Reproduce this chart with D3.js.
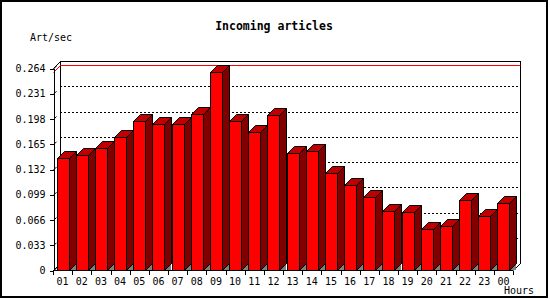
<!DOCTYPE html>
<html>
<head>
<meta charset="utf-8">
<script src="https://cdn.jsdelivr.net/npm/d3@7"></script>
<style>
  body { margin: 0; background: #fff; }
  svg { display: block; }
  text { font-family: "DejaVu Sans Mono", "Liberation Mono", monospace; fill: #000; }
</style>
</head>
<body>
<script>
const hours = ['01', '02', '03', '04', '05', '06', '07', '08', '09', '10', '11', '12',
               '13', '14', '15', '16', '17', '18', '19', '20', '21', '22', '23', '00'];
const artPerSec = [0.147, 0.150, 0.159, 0.174, 0.195, 0.191, 0.191, 0.204, 0.259, 0.195, 0.181, 0.202,
                   0.153, 0.155, 0.127, 0.111, 0.095, 0.077, 0.076, 0.053, 0.057, 0.092, 0.071, 0.087];
const yTicks = [0, 0.033, 0.066, 0.099, 0.132, 0.165, 0.198, 0.231, 0.264];

const width = 550, height = 300;
const plotLeft = 53, plotRight = 513, plotBase = 270, plotTop = 68;
const depth = 7;

const svg = d3.select('body').append('svg')
  .attr('width', width)
  .attr('height', height);

// image border
svg.append('rect')
  .attr('x', 1).attr('y', 1)
  .attr('width', 546).attr('height', 296)
  .attr('fill', 'none')
  .attr('stroke', '#000')
  .attr('stroke-width', 2);

const x = d3.scaleBand().domain(hours).range([plotLeft, plotRight]);
const y = d3.scaleLinear().domain([0, d3.max(yTicks)]).range([plotBase, plotTop]);
const r = v => Math.round(v) + 0.5;

const g = svg.append('g').attr('shape-rendering', 'crispEdges');

// dotted grid on back wall
g.selectAll('line.grid')
  .data(yTicks.slice(1, -1))
  .join('line')
    .attr('class', 'grid')
    .attr('x1', plotLeft + depth).attr('x2', plotRight + depth)
    .attr('y1', d => r(y(d) - depth))
    .attr('y2', d => r(y(d) - depth))
    .attr('stroke', '#000')
    .attr('stroke-dasharray', '2,2');

// back wall frame
g.append('path')
  .attr('d', `M${r(plotLeft + depth)},${r(plotBase - depth)}V${r(plotTop - depth)}H${r(plotRight + depth)}V${r(plotBase - depth)}`)
  .attr('fill', 'none')
  .attr('stroke', '#000');

// max line
const maxY = y(d3.max(artPerSec));
g.append('path')
  .attr('d', `M${r(plotLeft)},${r(maxY)}L${r(plotLeft + depth)},${r(maxY - depth)}H${r(plotRight + depth)}`)
  .attr('fill', 'none')
  .attr('stroke', '#f00')
  .attr('shape-rendering', 'auto');

// diagonals of the box
g.append('path')
  .attr('d', `M${r(plotLeft)},${r(plotTop)}L${r(plotLeft + depth)},${r(plotTop - depth)}` +
             `M${r(plotLeft)},${r(plotBase)}L${r(plotLeft + depth)},${r(plotBase - depth)}` +
             `M${r(plotRight)},${r(plotBase)}L${r(plotRight + depth)},${r(plotBase - depth)}`)
  .attr('fill', 'none')
  .attr('stroke', '#000')
  .attr('shape-rendering', 'auto');

const bw = Math.round(x.bandwidth() * 0.6);
const off = (x.bandwidth() - bw) / 2;
const data = hours.map((h, i) => ({hour: h, value: artPerSec[i]}));

const bars = g.selectAll('g.bar')
  .data(data)
  .join('g')
    .attr('class', 'bar')
    .attr('shape-rendering', 'auto');

// floor visible under the side face
bars.append('path')
  .attr('d', d => {
    const x1 = Math.round(x(d.hour) + off) + bw;
    return `M${x1},${plotBase}L${x1 + depth},${plotBase - depth}L${x1 + depth},${plotBase}Z`;
  })
  .attr('fill', '#808080');

bars.append('path')
  .attr('d', d => {
    const x1 = Math.round(x(d.hour) + off) + bw + 0.5;
    const yt = r(y(d.value));
    return `M${x1},${yt}L${x1 + depth},${yt - depth}V${plotBase - depth + 0.5}L${x1},${plotBase + 0.5}Z`;
  })
  .attr('fill', '#800000')
  .attr('stroke', '#000');

bars.append('path')
  .attr('d', d => {
    const x0 = Math.round(x(d.hour) + off) + 0.5, x1 = x0 + bw;
    const yt = r(y(d.value));
    return `M${x0},${yt}L${x0 + depth},${yt - depth}H${x1 + depth}L${x1},${yt}Z`;
  })
  .attr('fill', '#c00000')
  .attr('stroke', '#000');

bars.append('rect')
  .attr('x', d => Math.round(x(d.hour) + off) + 0.5)
  .attr('y', d => r(y(d.value)))
  .attr('width', bw)
  .attr('height', d => plotBase - Math.round(y(d.value)))
  .attr('fill', '#f00')
  .attr('stroke', '#000');

// y axis
const fmt = d => d === 0 ? '0' : d3.format('.3f')(d);
const yAxis = svg.append('g')
  .attr('transform', `translate(${plotLeft + 0.5},0.5)`)
  .attr('shape-rendering', 'crispEdges')
  .call(d3.axisLeft(y).tickValues(yTicks).tickFormat(fmt).tickSize(4).tickSizeOuter(0).tickPadding(4));
yAxis.selectAll('text')
  .attr('font-family', '"DejaVu Sans Mono", monospace')
  .attr('font-size', 10);
yAxis.selectAll('.tick')
  .append('line')
    .attr('x1', 0).attr('y1', 0).attr('x2', 3).attr('y2', -3)
    .attr('stroke', '#000')
    .attr('shape-rendering', 'auto');

// x axis
const xAxis = svg.append('g')
  .attr('transform', `translate(0,${plotBase + 0.5})`)
  .call(d3.axisBottom(x).tickSize(0).tickPadding(7));
xAxis.select('.domain')
  .attr('d', `M${plotLeft},0H${plotRight}`)
  .attr('shape-rendering', 'crispEdges');
xAxis.selectAll('text')
  .attr('font-family', '"DejaVu Sans Mono", monospace')
  .attr('font-size', 10);
xAxis.selectAll('line.sep')
  .data(hours.concat(['end']))
  .join('line')
    .attr('class', 'sep')
    .attr('x1', (d, i) => r(plotLeft + i * x.step()))
    .attr('x2', (d, i) => r(plotLeft + i * x.step()))
    .attr('y1', 0).attr('y2', 4)
    .attr('stroke', '#000')
    .attr('shape-rendering', 'crispEdges');

// titles
svg.append('text')
  .attr('x', 274).attr('y', 30)
  .attr('text-anchor', 'middle')
  .attr('font-size', 11.5)
  .attr('font-weight', 'bold')
  .text('Incoming articles');

svg.append('text')
  .attr('x', 30).attr('y', 41)
  .attr('font-size', 10)
  .text('Art/sec');

svg.append('text')
  .attr('x', 504).attr('y', 294)
  .attr('font-size', 10)
  .text('Hours');
</script>
</body>
</html>
